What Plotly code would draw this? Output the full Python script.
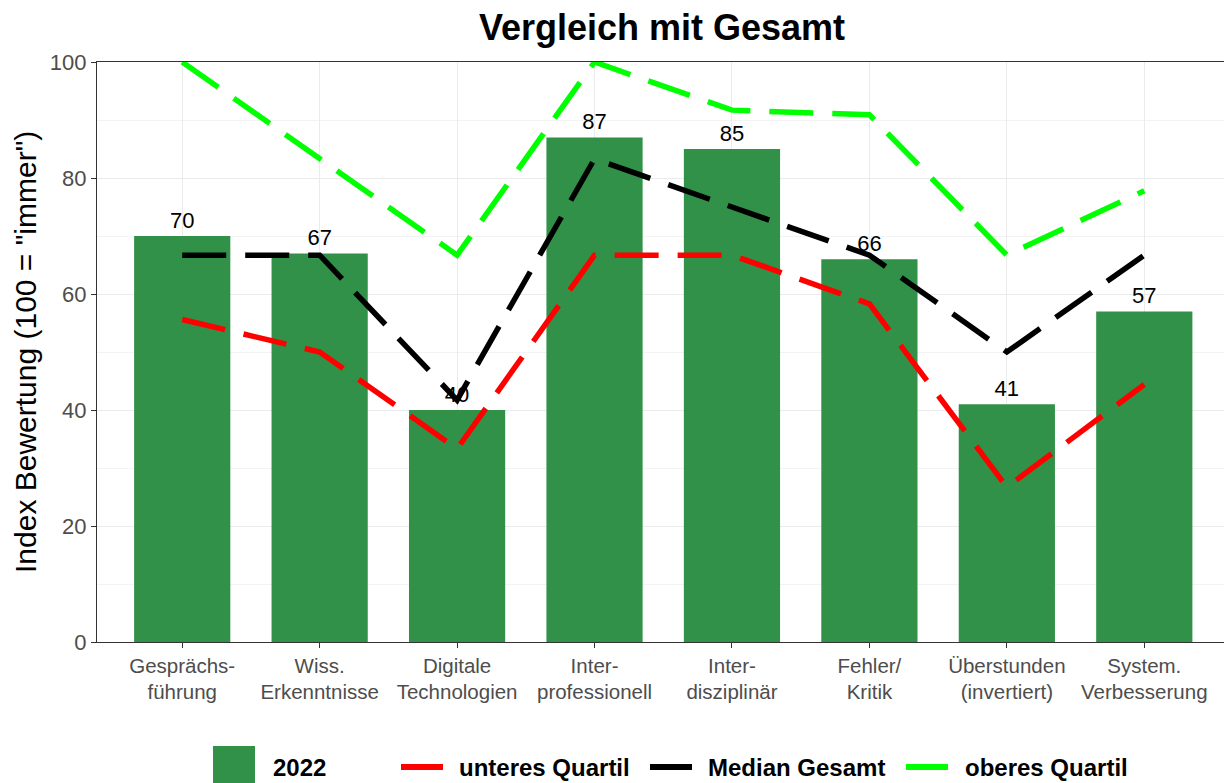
import plotly.graph_objects as go

categories = ["Gesprächs-<br>führung", "Wiss.<br>Erkenntnisse", "Digitale<br>Technologien",
              "Inter-<br>professionell", "Inter-<br>disziplinär", "Fehler/<br>Kritik",
              "Überstunden<br>(invertiert)", "System.<br>Verbesserung"]
values_2022 = [70, 67, 40, 87, 85, 66, 41, 57]
lower_quartile = [55.6, 50.0, 33.3, 66.7, 66.7, 58.3, 26.7, 44.4]
median_total = [66.7, 66.7, 41.7, 83.3, 75.0, 66.7, 50.0, 66.7]
upper_quartile = [100.0, 83.3, 66.7, 100.0, 91.7, 90.9, 66.7, 77.8]
y_ticks = [0, 20, 40, 60, 80, 100]

FONT = "Liberation Sans, Arial, sans-serif"
DASH = "44px,19px"
BAR_COLOR = "#329148"
W, H = 1224, 783
ML, MR, MT, MB = 97, 0, 62, 141
PW, PH = W - ML - MR, H - MT - MB


def px_x(px):
    return (px - ML) / PW


def px_y(py):
    return (H - MB - py) / PH


fig = go.Figure()
fig.add_trace(go.Bar(
    x=categories, y=values_2022, name="2022", showlegend=False,
    marker=dict(color=BAR_COLOR, line=dict(width=0)), width=0.7,
    texttemplate="%{y:.0f}", textposition="outside",
    textfont=dict(size=22, color="black", family=FONT),
    cliponaxis=False,
))
line_series = [("unteres Quartil", lower_quartile, "#ff0000"),
               ("Median Gesamt", median_total, "#000000"),
               ("oberes Quartil", upper_quartile, "#00ff00")]
for name, vals, col in line_series:
    fig.add_trace(go.Scatter(
        x=categories, y=vals, name=name, mode="lines", showlegend=False,
        line=dict(color=col, width=5.5, dash=DASH),
    ))

# manual legend (ggplot-style keys)
shapes = []
annotations = []
leg_y = 767
LEG_FONT = dict(size=24, color="black", family=FONT)
shapes.append(dict(type="rect", xref="paper", yref="paper",
                   x0=px_x(213), x1=px_x(255), y0=px_y(790), y1=px_y(746),
                   fillcolor=BAR_COLOR, line=dict(width=0)))
annotations.append(dict(text="<b>2022</b>", xref="paper", yref="paper",
                        x=px_x(271), y=px_y(leg_y), xanchor="left", yanchor="middle",
                        showarrow=False, font=LEG_FONT))
key_pos = [(401, 443, 457), (650, 692, 706), (906, 948, 963)]
for (name, _, col), (k0, k1, tx) in zip(line_series, key_pos):
    shapes.append(dict(type="line", xref="paper", yref="paper",
                       x0=px_x(k0), x1=px_x(k1), y0=px_y(leg_y), y1=px_y(leg_y),
                       line=dict(color=col, width=6)))
    annotations.append(dict(text=f"<b>{name}</b>", xref="paper", yref="paper",
                            x=px_x(tx), y=px_y(leg_y), xanchor="left", yanchor="middle",
                            showarrow=False, font=LEG_FONT))
annotations.append(dict(text='Index Bewertung (100 = "immer")', xref="paper", yref="paper",
                        x=px_x(25), y=0.5, xanchor="center", yanchor="middle",
                        textangle=-90, showarrow=False,
                        font=dict(size=30, color="black", family=FONT)))

fig.update_layout(
    width=W, height=H,
    paper_bgcolor="white", plot_bgcolor="white",
    margin=dict(l=ML, r=MR, t=MT, b=MB, autoexpand=False),
    font=dict(family=FONT, color="black"),
    title=dict(text="<b>Vergleich mit Gesamt</b>", xref="container", yref="container",
               x=662 / W, xanchor="center", y=1 - 27 / H, yanchor="middle",
               font=dict(size=36, color="black")),
    showlegend=False,
    shapes=shapes, annotations=annotations,
)
fig.update_xaxes(
    range=[-0.62, 7.58], showgrid=True, gridcolor="#ebebeb", gridwidth=1.2,
    showline=True, mirror=True, linecolor="#333333", linewidth=1.2,
    ticks="outside", ticklen=5, tickcolor="#333333", automargin=False,
    tickfont=dict(size=20.5, color="#4d4d4d", family=FONT),
)
fig.update_yaxes(
    range=[0, 100], tickvals=y_ticks, showgrid=True, gridcolor="#ebebeb", gridwidth=1.2,
    minor=dict(dtick=10, tick0=0, showgrid=True, gridcolor="#f3f3f3", gridwidth=0.8),
    showline=True, mirror=True, linecolor="#333333", linewidth=1.2,
    ticks="outside", ticklen=5, tickcolor="#333333", zeroline=False, automargin=False,
    tickfont=dict(size=22, color="#4d4d4d", family=FONT),
)
fig.write_html("out.html", config={"displayModeBar": False},
               post_script="document.body.style.margin='0';document.body.style.overflow='hidden';")
